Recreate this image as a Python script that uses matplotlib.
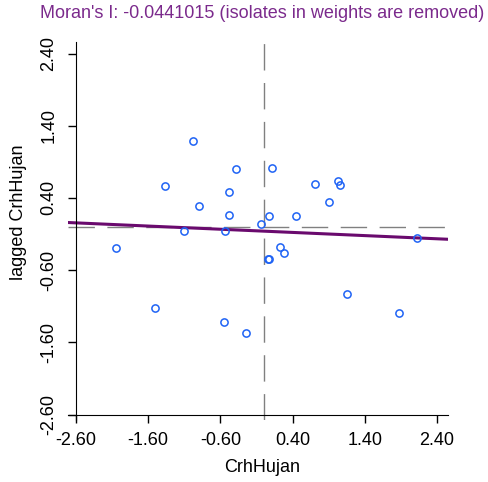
import numpy as np
import matplotlib
matplotlib.use('Agg')
from matplotlib import pyplot as plt

plt.rcParams['font.family'] = ['Liberation Sans', 'DejaVu Sans']

# standardized CrhHujan and its spatial lag
crh = [-0.98, -1.36, -0.90, -0.38, -0.48, -0.48, -1.11, -0.53, -2.05, -1.50,
       -0.55, -0.25, -0.04, 0.07, 0.12, 0.45, 0.06, 0.08, 0.23, 0.28,
       0.71, 0.91, 1.03, 1.06, 1.16, 2.12, 1.88]
lag = [1.19, 0.57, 0.29, 0.80, 0.48, 0.17, -0.06, -0.06, -0.29, -1.12,
       -1.32, -1.47, 0.04, 0.15, 0.82, 0.15, -0.45, -0.45, -0.28, -0.36,
       0.59, 0.34, 0.64, 0.58, -0.93, -0.15, -1.19]
moran_i = -0.0441015
intercept = -0.06
ticks = [-2.6, -1.6, -0.6, 0.4, 1.4, 2.4]

W, H = 489, 482
fs = 13
fig = plt.figure(figsize=(W / 100, H / 100), dpi=100)
ax = fig.add_axes([68 / W, 1 - 420 / H, 380 / W, 378 / H])
ax.set_xlim(-2.71, 2.553)
ax.set_ylim(-2.676, 2.56)

# mean lines
ax.axvline(0, color='#808080', lw=1.0, dashes=(19, 9), zorder=1)
ax.axhline(0, color='#808080', lw=1.0, dashes=(19, 9), zorder=1)

# regression line
xs = np.array(ax.get_xlim())
ax.plot(xs, intercept + moran_i * xs, color='#6a0a6e', lw=2.2, zorder=2)

ax.plot(crh, lag, 'o', ms=5.2, mfc='none', mec='#1f63f5', mew=1.1, zorder=3)

for s in ['top', 'right']:
    ax.spines[s].set_visible(False)
ax.spines['left'].set_position(('data', -2.6))
ax.spines['bottom'].set_position(('data', -2.6))
ax.set_xticks(ticks)
ax.set_yticks(ticks)
ax.set_xticklabels(['%.2f' % t for t in ticks])
ax.set_yticklabels(['%.2f' % t for t in ticks], rotation=90, va='center')
ax.tick_params(axis='both', length=5.5, width=1, labelsize=fs)
ax.tick_params(axis='x', pad=7)
ax.tick_params(axis='y', pad=8)

fig.text(262 / W, 1 - 13 / H, "Moran's I: -0.0441015 (isolates in weights are removed)",
         ha='center', va='center', color='#7b2a8c', fontsize=fs)
fig.text(262 / W, 1 - 467 / H, 'CrhHujan', ha='center', va='center', fontsize=fs)
fig.text(19 / W, 1 - 212 / H, 'lagged CrhHujan', ha='center', va='center',
         rotation=90, fontsize=fs)

fig.savefig('out.png', dpi=100)
